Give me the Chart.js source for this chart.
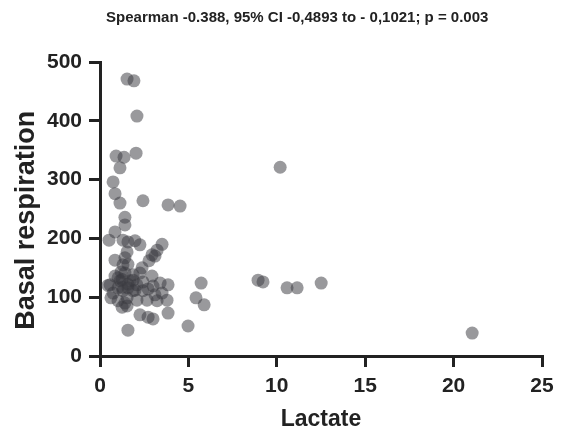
<!DOCTYPE html>
<html>
<head>
<meta charset="utf-8">
<script src="https://cdn.jsdelivr.net/npm/chart.js@4.4.1/dist/chart.umd.min.js"></script>
<style>
  html, body { margin: 0; padding: 0; background: #fff; }
  #wrap { width: 564px; height: 434px; }
</style>
</head>
<body>
<div id="wrap"><canvas id="scatterChart"></canvas></div>
<script>
const titleText = "Spearman -0.388, 95% CI -0,4893 to - 0,1021; p = 0.003";
const xLabel = "Lactate";
// trailing spaces nudge the rotated label a little downwards, as in the original
const yLabel = "Basal respiration   ";

const lactate = [
  1.53, 1.92, 2.09, 2.04, 0.91, 1.36, 1.13, 0.74, 0.85, 1.13,
  2.43, 3.85, 4.53, 10.19, 1.41, 1.41, 0.85, 0.51, 1.30, 1.58,
  1.98, 2.26, 3.51, 3.23, 2.94, 2.77, 3.11, 1.53, 1.41, 0.85,
  1.30, 1.19, 0.85, 1.41, 1.87, 2.26, 2.94, 0.57, 1.13, 1.70,
  2.09, 3.00, 0.74, 1.30, 1.87, 2.43, 3.11, 1.53, 1.02, 2.09,
  2.66, 3.23, 3.40, 3.85, 3.51, 3.79, 3.85, 2.26, 2.72, 3.00,
  1.58, 1.25, 1.41, 4.98, 5.43, 5.72, 5.89, 8.94, 9.22, 10.58,
  11.15, 12.51, 21.05, 0.62, 1.53, 1.98, 2.43, 1.02, 1.58, 2.72,
  1.58, 2.38, 0.45, 1.25, 1.02, 1.58, 1.25, 1.87
];
const basalResp = [
  471, 468, 408, 345, 340, 338, 320, 296, 276, 260,
  264, 257, 255, 321, 236, 223, 211, 197, 197, 194,
  196, 189, 190, 180, 172, 162, 170, 177, 167, 163,
  155, 143, 136, 141, 138, 141, 136, 121, 128, 128,
  121, 119, 107, 111, 111, 111, 104, 99, 94, 95,
  95, 94, 124, 121, 107, 95, 73, 70, 66, 63,
  44, 83, 90, 51, 99, 124, 87, 129, 126, 116,
  116, 124, 39, 99, 85, 112, 126, 116, 116, 114,
  156, 150, 120, 130, 133, 122, 117, 129
];

const xTicks = [0, 5, 10, 15, 20, 25];
const yTicks = [0, 100, 200, 300, 400, 500];

const points = lactate.map((x, i) => ({ x: x, y: basalResp[i] }));

const fontFamily = "'Liberation Sans', Arial, Helvetica, sans-serif";
const ink = "#222";

// title drawn by hand so it can sit a bit right of centre like the original
const titlePlugin = {
  id: "topTitle",
  afterDraw(chart) {
    const c = chart.ctx;
    c.save();
    c.font = "bold 15px " + fontFamily;
    c.fillStyle = ink;
    c.textAlign = "center";
    c.textBaseline = "middle";
    c.fillText(titleText, chart.width * 0.527, 18);
    c.restore();
  }
};

new Chart(document.getElementById("scatterChart").getContext("2d"), {
  type: "scatter",
  data: {
    datasets: [{
      data: points,
      backgroundColor: "rgba(60, 60, 65, 0.52)",
      borderWidth: 0,
      pointRadius: 6.5,
      pointHoverRadius: 6.5
    }]
  },
  plugins: [titlePlugin],
  options: {
    responsive: true,
    maintainAspectRatio: false,
    animation: false,
    layout: { padding: { top: 62, right: 22, left: 0, bottom: 0 } },
    plugins: {
      legend: { display: false },
      tooltip: { enabled: false },
      title: { display: false }
    },
    scales: {
      x: {
        type: "linear",
        min: 0,
        max: 25,
        afterBuildTicks: s => { s.ticks = xTicks.map(v => ({ value: v })); },
        afterFit: s => { s.height = 78; },
        grid: { drawOnChartArea: false, drawTicks: true, tickLength: 11, lineWidth: 3, color: ink },
        border: { display: true, width: 3, color: ink },
        ticks: { color: ink, padding: 7, font: { family: fontFamily, size: 21, weight: "bold" } },
        title: {
          display: true,
          text: xLabel,
          color: ink,
          padding: { top: 0, bottom: 1 },
          font: { family: fontFamily, size: 23, weight: "bold" }
        }
      },
      y: {
        type: "linear",
        min: 0,
        max: 500,
        afterBuildTicks: s => { s.ticks = yTicks.map(v => ({ value: v })); },
        afterFit: s => { s.width = 100; },
        grid: { drawOnChartArea: false, drawTicks: true, tickLength: 11, lineWidth: 3, color: ink },
        border: { display: true, width: 3, color: ink },
        ticks: { color: ink, padding: 7, font: { family: fontFamily, size: 21, weight: "bold" } },
        title: {
          display: true,
          text: yLabel,
          color: ink,
          padding: { top: 10, bottom: 0 },
          font: { family: fontFamily, size: 27, weight: "bold" }
        }
      }
    }
  }
});
</script>
</body>
</html>
